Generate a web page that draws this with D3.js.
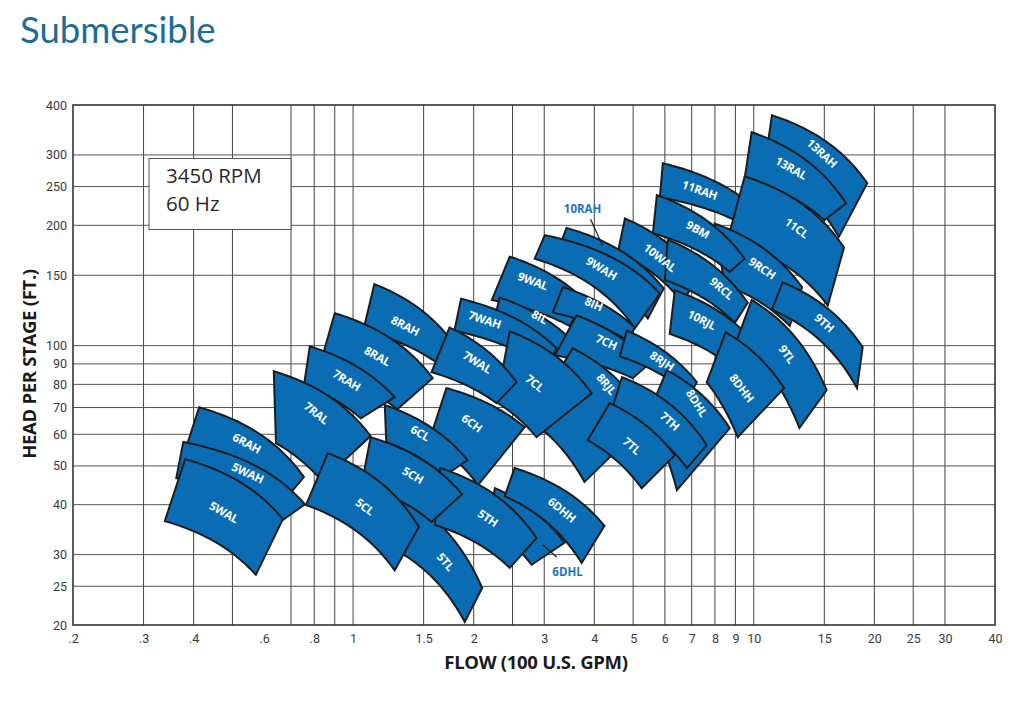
<!doctype html>
<html>
  <head>
    <meta charset="utf-8">
    <script src="https://cdn.jsdelivr.net/npm/d3@7"></script>
    <style>
      body { margin: 0; background: white; }
      .chart { width: 1024px; height: 703px; display: block; }
      .tick text { font-family: "Liberation Sans Narrow", "Roboto", sans-serif; font-size: 12.5px; fill: #3a3a3a; }
      .tile-label { font-family: "Open Sans", sans-serif; font-weight: 700; font-size: 11.5px; fill: white; letter-spacing: -0.2px; }
      .callout { font-family: "Open Sans", sans-serif; font-weight: 700; font-size: 11.5px; fill: #1f73bb; }
    </style>
  </head>
  <body>
    <svg class="chart"></svg>
    <script>
      // pump models, listed in drawing order (back to front)
      const models = ["6RAH","5WAH","5WAL","8RAH","8RAL","7RAH","7RAL","6CH","6CL","5TL","6DHL","5TH","5CH","5CL","6DHH",
                      "11RAH","13RAH","13RAL","11CL","9RCH","9BM","10WAL","10RAH","9WAH","9WAL","8IH","8IL","7WAH","7CH","8RJH",
                      "9RCL","10RJL","9TL","9TH","8RJL","7CL","7WAL","8DHL","8DHH","7TH","7TL"]

      // corners of each tile as [flow (100 gpm), head per stage (ft)]
      const topLeft = [[0.413,70.1],[0.377,57.4],[0.381,52.0],[1.13,142.5],[0.90,120.5],[0.78,99.6],[0.634,86.3],[1.71,78.3],[1.20,71.0],[1.257,43.0],[2.26,44.0],[1.65,49.4],[1.106,59.0],[0.865,53.8],[2.53,49.4],
                       [5.93,286],[11.1,377],[9.88,342],[9.49,265],[7.99,202],[5.73,238],[4.77,208],[3.41,197],[3.01,189],[2.46,167],[3.34,140],[2.32,132],[1.86,131],[3.61,119],[4.82,109],
                       [6.10,184],[6.35,137.5],[9.88,130],[11.8,144],[3.53,98.5],[2.46,108.6],[1.74,111],[6.07,86.8],[8.51,108],[4.69,83.4],[4.37,71.8]]
      const topRight = [[0.754,46.9],[0.758,40.1],[0.668,36.8],[1.72,106],[1.58,82.9],[1.27,74.3],[1.106,59.4],[2.68,62.5],[1.93,51.7],[2.10,24.75],[3.37,32.1],[2.87,33.0],[1.87,42.5],[1.46,35.2],[4.24,35.4],
                        [9.33,235],[19.2,255],[17.0,227],[16.8,176],[13.2,140],[9.49,165],[7.25,150],[5.96,139],[5.83,135],[3.78,130],[5.05,111],[3.43,105.5],[3.22,98.5],[5.50,90.4],[7.21,81.0],
                        [9.66,128],[9.49,108],[15.2,77.4],[18.7,99.1],[5.44,65.1],[3.94,76.0],[2.56,81.0],[8.71,62.2],[11.9,78.3],[7.63,56.4],[6.35,53.2]]
      const bottomRight = [[0.687,42.0],[0.668,36.6],[0.572,26.7],[1.61,90.9],[1.29,69.3],[1.045,65.8],[0.836,45.8],[2.05,44.8],[1.69,47.2],[1.90,20.35],[2.79,28.3],[2.46,27.8],[1.57,36.2],[1.27,27.4],[3.72,28.6],
                           [8.97,206],[16.3,187],[15.0,206],[15.3,126],[12.3,112],[8.71,153],[6.65,128],[5.44,117],[5.05,110.5],[3.47,112],[4.85,103],[3.24,94.6],[3.01,87.8],[4.99,82.9],[6.92,75.0],
                           [8.97,114],[8.71,89.3],[13.0,62.2],[18.1,78.3],[3.78,45.6],[2.87,59.0],[2.28,71.8],[6.43,43.5],[9.12,59.0],[6.81,49.4],[5.25,44.0]]
      const bottomLeft = [[0.385,56.4],[0.362,46.6],[0.339,36.4],[1.06,109],[0.817,85.8],[0.754,79.6],[0.642,57.0],[1.55,58.0],[1.21,57.4],[1.25,31.2],[2.16,35.6],[1.60,35.6],[1.05,44.8],[0.763,39.9],[2.39,42.0],
                          [5.83,235],[10.65,283],[9.49,262],[8.61,184],[8.46,142],[5.60,191],[4.58,171],[3.19,165],[2.84,165],[2.22,130],[3.15,121],[2.23,110.5],[1.79,109],[3.19,94.6],[4.63,94.0],
                          [6.00,146],[6.17,107],[9.07,103],[11.1,123],[2.76,65.1],[2.28,72.2],[1.57,85.8],[5.44,67.0],[7.63,81.0],[4.42,68.9],[3.85,58.0]]

      // where the model name sits inside its tile (null = named by a callout)
      const labelAt = [[0.543,57.0],[0.546,48.0],[0.476,38.3],[1.35,112],[1.15,94.1],[0.964,81.9],[0.81,67.8],[1.98,64.0],[1.47,60.4],[1.70,28.8],null,[2.17,37.0],[1.41,47.4],[1.07,39.5],[3.32,38.8],
                       [7.33,245],[14.8,303],[12.4,278],[12.8,197],[10.5,156],[7.25,195],[5.83,166],null,[4.17,156],[2.81,145],[3.99,127],[2.92,118],[2.13,116],[4.29,102],[5.90,91.5],
                       [8.32,139],[7.42,116],[12.1,95.2],[15.0,114],[4.29,80.1],[2.84,80.5],[2.04,90.9],[7.21,71.8],[9.33,78.3],[6.17,64.7],[4.96,56.1]]

      // names written outside the tiles, with a leader line
      const calloutNames = ["10RAH", "6DHL"]
      const calloutAt = [[3.74,220],[3.43,27.1]]
      const leaderFrom = [[3.915,207],[2.975,31.7]]
      const leaderTo = [[4.194,178],[3.223,29.6]]

      // axes
      const xGrid = [0.3,0.4,0.5,0.7,0.8,0.9,1,1.5,2,2.5,3,4,5,6,7,8,9,10,15,20,25,30]
      const yGrid = [25,30,40,50,60,70,80,90,100,150,200,250,300]
      const xTicks = [0.2,0.3,0.4,0.6,0.8,1,1.5,2,3,4,5,6,7,8,9,10,15,20,25,30,40]
      const yTicks = [20,25,30,40,50,60,70,80,90,100,150,200,250,300,400]

      const plot = { left: 73, right: 995, top: 105, bottom: 625 }

      const x = d3.scaleLog().domain([0.2, 40]).range([plot.left, plot.right])
      const y = d3.scaleLog().domain([20, 400]).range([plot.bottom, plot.top])

      const svg = d3.select(".chart")
                    .attr("width", 1024)
                    .attr("height", 703)

      svg.append("text")
          .attr("x", 20)
          .attr("y", 43)
          .attr("font-family", "Lato, 'Open Sans', sans-serif")
          .attr("font-size", 36.5)
          .attr("fill", "#1a6d94")
          .text("Submersible")

      // grid
      svg.append("g")
        .selectAll("line")
        .data(xGrid)
        .enter().append("line")
          .attr("x1", d => x(d)).attr("x2", d => x(d))
          .attr("y1", plot.top).attr("y2", plot.bottom)
          .attr("stroke", "#444")
          .attr("stroke-width", 1)

      svg.append("g")
        .selectAll("line")
        .data(yGrid)
        .enter().append("line")
          .attr("x1", plot.left).attr("x2", plot.right)
          .attr("y1", d => y(d)).attr("y2", d => y(d))
          .attr("stroke", "#555")
          .attr("stroke-width", 1)

      svg.append("rect")
          .attr("x", plot.left).attr("y", plot.top)
          .attr("width", plot.right - plot.left).attr("height", plot.bottom - plot.top)
          .attr("fill", "none")
          .attr("stroke", "#333")
          .attr("stroke-width", 1.6)

      // speed box
      svg.append("rect")
          .attr("x", 149).attr("y", 158.5)
          .attr("width", 142).attr("height", 71)
          .attr("fill", "white")
          .attr("stroke", "#555")
          .attr("stroke-width", 1)

      const box = svg.append("g")
          .attr("font-family", "'Open Sans', sans-serif")
          .attr("font-size", 20.5)
          .attr("fill", "#2a2a2a")
      box.append("text").attr("x", 166).attr("y", 183).text("3450 RPM")
      box.append("text").attr("x", 166).attr("y", 211).text("60 Hz")

      // axes
      const fmt = d => d < 1 ? String(d).replace("0.", ".") : String(d)

      svg.append("g")
          .attr("transform", "translate(0," + plot.bottom + ")")
          .call(d3.axisBottom(x).tickValues(xTicks).tickFormat(fmt).tickSize(0).tickPadding(9))
          .call(g => g.select(".domain").remove())

      svg.append("g")
          .attr("transform", "translate(" + plot.left + ",0)")
          .call(d3.axisLeft(y).tickValues(yTicks).tickFormat(fmt).tickSize(0).tickPadding(6))
          .call(g => g.select(".domain").remove())

      svg.append("text")
          .attr("x", 536)
          .attr("y", 669)
          .attr("text-anchor", "middle")
          .attr("font-family", "'Open Sans', sans-serif")
          .attr("font-weight", 700)
          .attr("font-size", 18.5)
          .attr("letter-spacing", -0.3)
          .attr("fill", "#1a1a1a")
          .text("FLOW (100 U.S. GPM)")

      svg.append("text")
          .attr("transform", "translate(36,364) rotate(-90)")
          .attr("text-anchor", "middle")
          .attr("font-family", "'Open Sans', sans-serif")
          .attr("font-weight", 700)
          .attr("font-size", 18.5)
          .attr("letter-spacing", -0.3)
          .attr("fill", "#1a1a1a")
          .text("HEAD PER STAGE (FT.)")

      // top and bottom of a tile follow a pump curve H = a - b*Q^2 through the two corners
      function pumpCurve(p1, p2) {
        const b = (p1[1] - p2[1]) / (p2[0] * p2[0] - p1[0] * p1[0])
        const a = p1[1] + b * p1[0] * p1[0]
        return q => a - b * q * q
      }

      function edgePoints(p1, p2, n) {
        const f = pumpCurve(p1, p2)
        const lq = d3.scaleLinear().domain([0, n]).range([Math.log(p1[0]), Math.log(p2[0])])
        return d3.range(n + 1).map(i => {
          const q = Math.exp(lq(i))
          return [x(q), y(f(q))]
        })
      }

      function edgeAngle(p1, p2, q) {
        const f = pumpCurve(p1, p2)
        const qc = Math.max(p1[0], Math.min(p2[0], q))
        const q0 = qc * 0.97, q1 = qc * 1.03
        return Math.atan2(y(f(q1)) - y(f(q0)), x(q1) - x(q0)) * 180 / Math.PI
      }

      const tiles = models.map((name, i) => ({
        name: name,
        tl: topLeft[i], tr: topRight[i], br: bottomRight[i], bl: bottomLeft[i],
        label: labelAt[i]
      }))

      const line = d3.line()

      svg.append("g")
        .selectAll(".tile")
        .data(tiles)
        .enter().append("path")
          .attr("class", "tile")
          .attr("d", d => line(edgePoints(d.tl, d.tr, 30).concat(edgePoints(d.bl, d.br, 30).reverse())) + "Z")
          .attr("fill", "#0a6db4")
          .attr("stroke", "#1c1c1c")
          .attr("stroke-width", 2)
          .attr("stroke-linejoin", "miter")

      // names go on top of every tile
      svg.append("g")
        .selectAll(".tile-label")
        .data(tiles.filter(d => d.label))
        .enter().append("text")
          .attr("class", "tile-label")
          .attr("text-anchor", "middle")
          .attr("dy", "0.36em")
          .attr("transform", d => {
            const a = (edgeAngle(d.tl, d.tr, d.label[0]) + edgeAngle(d.bl, d.br, d.label[0])) / 2
            return "translate(" + x(d.label[0]) + "," + y(d.label[1]) + ") rotate(" + a + ")"
          })
          .text(d => d.name)

      // callouts
      svg.append("g")
        .selectAll("line")
        .data(calloutNames)
        .enter().append("line")
          .attr("x1", (d, i) => x(leaderFrom[i][0])).attr("y1", (d, i) => y(leaderFrom[i][1]))
          .attr("x2", (d, i) => x(leaderTo[i][0])).attr("y2", (d, i) => y(leaderTo[i][1]))
          .attr("stroke", "#1c1c1c")
          .attr("stroke-width", 1.2)

      svg.append("g")
        .selectAll("text")
        .data(calloutNames)
        .enter().append("text")
          .attr("class", "callout")
          .attr("text-anchor", "middle")
          .attr("dy", "0.36em")
          .attr("x", (d, i) => x(calloutAt[i][0]))
          .attr("y", (d, i) => y(calloutAt[i][1]))
          .text(d => d)
    </script>
  </body>
</html>
